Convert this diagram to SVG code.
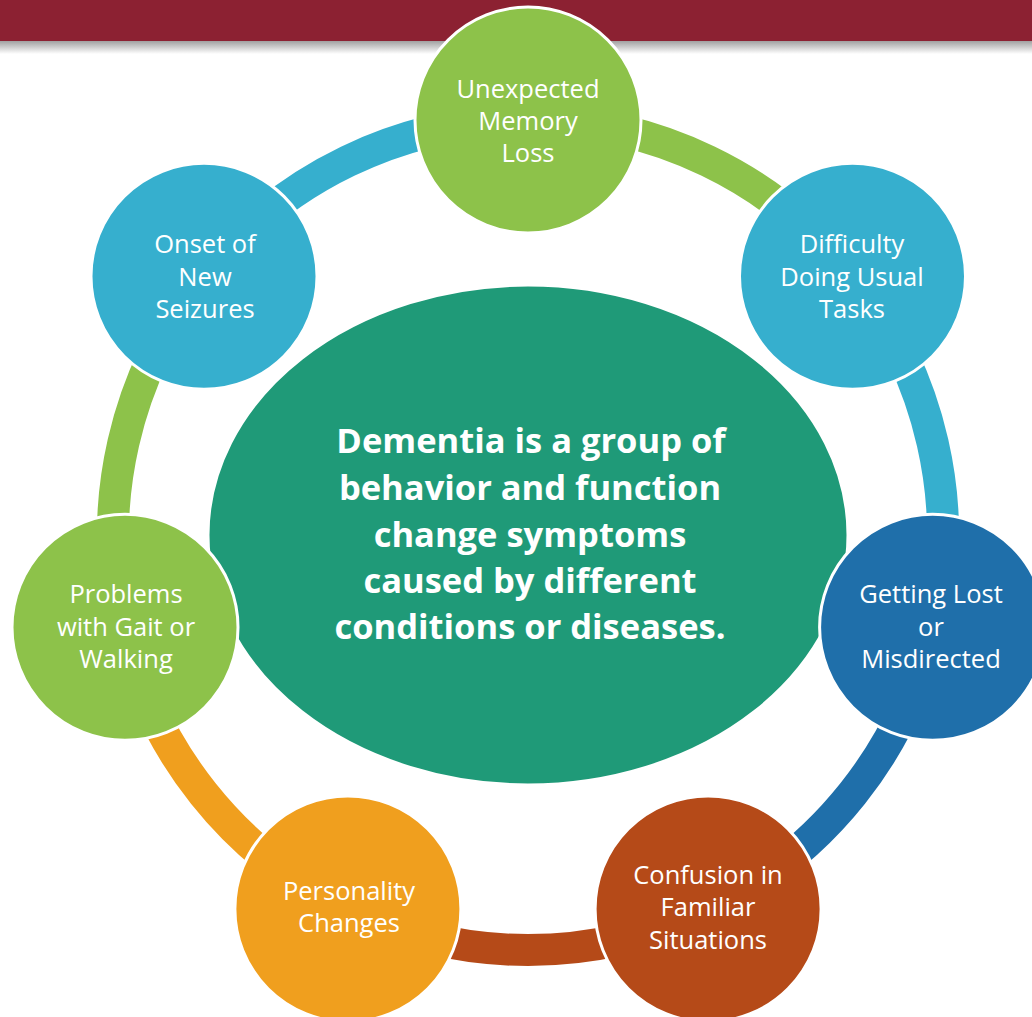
<svg xmlns="http://www.w3.org/2000/svg" width="1032" height="1017" viewBox="0 0 1032 1017">
<defs>
<linearGradient id="shadow" x1="0" y1="0" x2="0" y2="1">
<stop offset="0" stop-color="#9a9a9a"/>
<stop offset="1" stop-color="#ffffff"/>
</linearGradient>
</defs>
<style>
.ring{fill:none;stroke-width:32}
.node{stroke:#ffffff;stroke-width:3}
.lbl{font-family:"Open Sans","Liberation Sans",sans-serif;font-size:25.5px;fill:#ffffff;text-anchor:middle}
.center{font-family:"Open Sans","Liberation Sans",sans-serif;font-size:34.5px;font-weight:bold;fill:#ffffff;text-anchor:middle}
</style>
<rect width="1032" height="1017" fill="#ffffff"/>
<rect x="0" y="40" width="1032" height="14" fill="url(#shadow)"/>
<rect x="0" y="0" width="1032" height="41" fill="#8C2132"/>
<g id="connectors">
<path class="ring" stroke="#8DC24A" d="M528,120 A415,415 0 0 1 852.5,276.3"/>
<path class="ring" stroke="#36AFCE" d="M852.5,276.3 A415,415 0 0 1 932.6,627.3"/>
<path class="ring" stroke="#1F6FAA" d="M932.6,627.3 A415,415 0 0 1 708.1,908.9"/>
<path class="ring" stroke="#B54A18" d="M708.1,908.9 A415,415 0 0 1 347.9,908.9"/>
<path class="ring" stroke="#F09F1E" d="M347.9,908.9 A415,415 0 0 1 123.4,627.3"/>
<path class="ring" stroke="#8DC24A" d="M123.4,627.3 A415,415 0 0 1 203.5,276.3"/>
<path class="ring" stroke="#36AFCE" d="M203.5,276.3 A415,415 0 0 1 528,120"/>
</g>
<g id="center">
<ellipse class="node" cx="528" cy="535" rx="320" ry="250" fill="#1F9A78"/>
<text class="center"><tspan x="531" y="453">Dementia is a group of</tspan><tspan x="530" y="500">behavior and function</tspan><tspan x="530" y="547">change symptoms</tspan><tspan x="530" y="593">caused by different</tspan><tspan x="530" y="639">conditions or diseases.</tspan></text>
</g>
<g id="memory">
<circle class="node" cx="528" cy="120" r="113" fill="#8DC24A"/>
<text class="lbl"><tspan x="528" y="98">Unexpected</tspan><tspan x="528" y="130">Memory</tspan><tspan x="528" y="162">Loss</tspan></text>
</g>
<g id="difficulty">
<circle class="node" cx="852.5" cy="276.3" r="113" fill="#36AFCE"/>
<text class="lbl"><tspan x="852" y="253">Difficulty</tspan><tspan x="852" y="286">Doing Usual</tspan><tspan x="852" y="318">Tasks</tspan></text>
</g>
<g id="lost">
<circle class="node" cx="932.6" cy="627.3" r="113" fill="#1F6FAA"/>
<text class="lbl"><tspan x="931" y="603">Getting Lost</tspan><tspan x="931" y="636">or</tspan><tspan x="931" y="668">Misdirected</tspan></text>
</g>
<g id="confusion">
<circle class="node" cx="708.1" cy="908.9" r="113" fill="#B54A18"/>
<text class="lbl"><tspan x="708" y="884">Confusion in</tspan><tspan x="708" y="916">Familiar</tspan><tspan x="708" y="949">Situations</tspan></text>
</g>
<g id="personality">
<circle class="node" cx="347.9" cy="908.9" r="113" fill="#F09F1E"/>
<text class="lbl"><tspan x="349" y="900">Personality</tspan><tspan x="349" y="932">Changes</tspan></text>
</g>
<g id="gait">
<circle class="node" cx="125" cy="627.3" r="113" fill="#8DC24A"/>
<text class="lbl"><tspan x="126" y="603">Problems</tspan><tspan x="126" y="636">with Gait or</tspan><tspan x="126" y="668">Walking</tspan></text>
</g>
<g id="seizures">
<circle class="node" cx="204" cy="276.3" r="113" fill="#36AFCE"/>
<text class="lbl"><tspan x="205" y="253">Onset of</tspan><tspan x="205" y="286">New</tspan><tspan x="205" y="318">Seizures</tspan></text>
</g>
</svg>
